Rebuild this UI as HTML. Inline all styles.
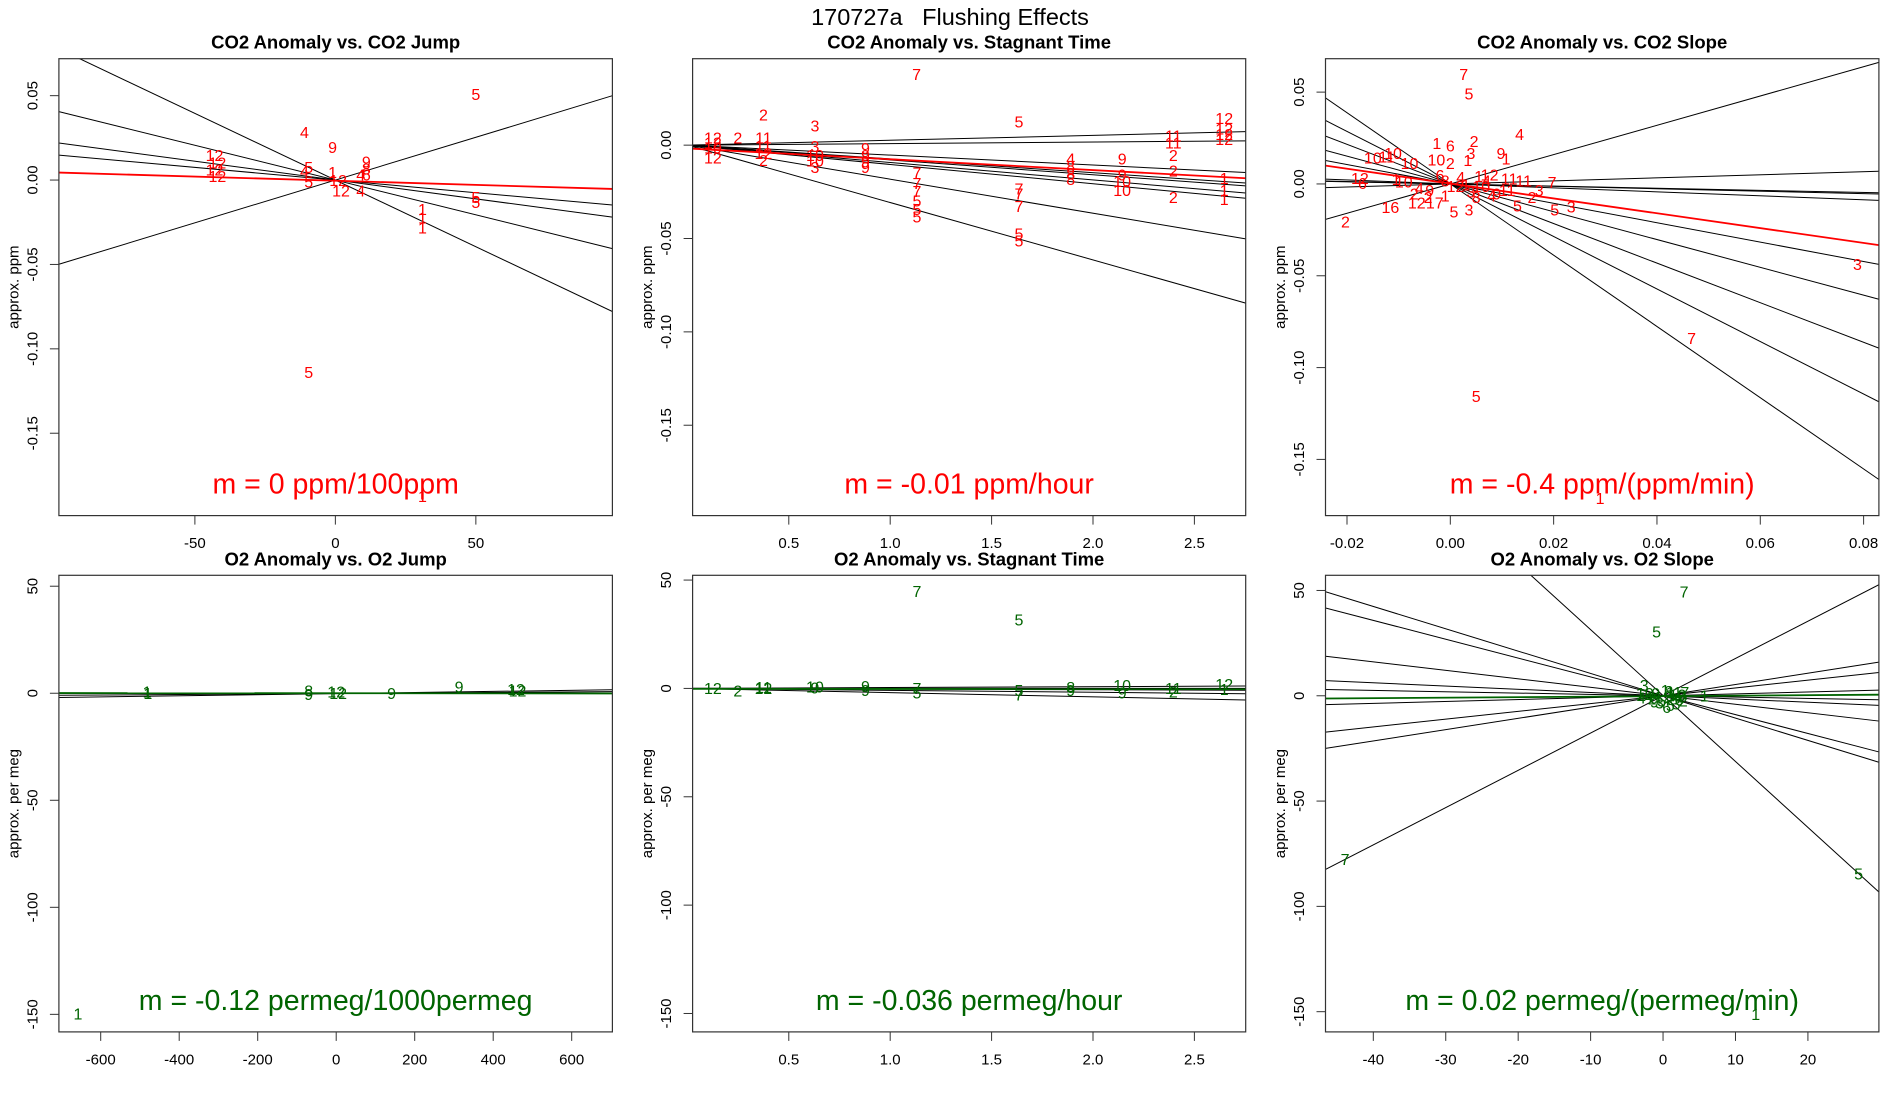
<!DOCTYPE html>
<html><head><meta charset="utf-8"><title>170727a Flushing Effects</title>
<style>
html,body{margin:0;padding:0;background:#fff;}
svg{display:block;font-family:"Liberation Sans",Arial,sans-serif;}
</style></head>
<body>
<svg id="chart" width="1900" height="1100" viewBox="0 0 1900 1100" xmlns="http://www.w3.org/2000/svg">
<rect x="0" y="0" width="1900" height="1100" fill="#fff"/>
<text x="950" y="17" font-size="23.5" text-anchor="middle" dominant-baseline="central" fill="#000" style="white-space:pre">170727a   Flushing Effects</text>
<g id="panels"></g>
</svg>
<script>
// ---------- Panel 1: CO2 Anomaly vs. CO2 Jump ----------
const p1Labels = ["5","4","9","12","12","12","12","5","4","5","1","12","12","9","8","6","4","4","5","5","1","1","1","5","1"];
const p1X = [50,-11,-1,-43,-42,-43,-42,-9.5,-11,-9.5,-1,1,2,11,11,11,9,9,50,50,31,31,31,-9.5,31];
const p1Y = [0.05,0.0275,0.0188,0.014,0.0095,0.0055,0.0015,0.0067,0.0046,-0.0017,0.004,-0.001,-0.007,0.01,0.006,0.0025,0.0025,-0.007,-0.011,-0.014,-0.018,-0.023,-0.029,-0.1146,-0.188];
const p1LineSlopes = [0.000507,-0.00079,-0.000412,-0.000223,-0.00015];
const p1LineIntercepts = [0,0,0,0,0];
const p1FitSlope = -0.0000493;
const p1FitIntercept = -0.0004;
const p1XTicks = [-50,0,50];
const p1XTickLabels = ["-50","0","50"];
const p1YTicks = [0.05,0,-0.05,-0.1,-0.15];
const p1YTickLabels = ["0.05","0.00","-0.05","-0.10","-0.15"];

// ---------- Panel 2: CO2 Anomaly vs. Stagnant Time ----------
const p2Labels = ["7","2","5","3","2","12","12","12","12","11","11","1","1","1","2","2","2","10","10","9","9","4","8","8","8","7","7","7","5","5","7","7","7","5","5","5","9","9","9","9","3","10","10","3","11","11","12","2","12","12","10","12"];
const p2X = [1.13,0.375,1.635,0.629,0.249,2.647,2.647,2.647,2.647,2.396,2.396,2.647,2.647,2.647,2.396,2.396,2.396,2.144,2.144,2.144,2.144,1.89,1.89,1.89,1.89,1.635,1.635,1.635,1.635,1.635,1.132,1.132,1.132,1.132,1.132,1.132,0.878,0.878,0.878,0.878,0.629,0.629,0.629,0.629,0.375,0.375,0.375,0.375,0.126,0.126,0.126,0.126];
const p2Y = [0.0373,0.0156,0.0119,0.0096,0.0034,0.0137,0.0081,0.0053,0.0024,0.0043,0.0006,-0.0183,-0.0248,-0.0296,-0.0286,-0.006,-0.0145,-0.02,-0.0248,-0.008,-0.0164,-0.0079,-0.012,-0.016,-0.019,-0.0239,-0.0267,-0.0333,-0.048,-0.052,-0.0154,-0.0211,-0.0254,-0.0305,-0.035,-0.039,-0.0023,-0.006,-0.0095,-0.0126,-0.0013,-0.006,-0.009,-0.0126,0.0034,-0.001,-0.005,-0.0088,0.0034,0.0005,-0.002,-0.0075];
const p2LineSlopes = [0.00262,0.00083,-0.00532,-0.00737,-0.00792,-0.00931,-0.01034,-0.01823,-0.03073];
const p2LineIntercepts = [0,0,0,0,0,0,0,0,0];
const p2FitSlope = -0.0058;
const p2FitIntercept = -0.00175;
const p2XTicks = [0.5,1,1.5,2,2.5];
const p2XTickLabels = ["0.5","1.0","1.5","2.0","2.5"];
const p2YTicks = [0,-0.05,-0.1,-0.15];
const p2YTickLabels = ["0.00","-0.05","-0.10","-0.15"];

// ---------- Panel 3: CO2 Anomaly vs. CO2 Slope ----------
const p3Labels = ["7","5","4","2","1","6","3","9","1","1","10","10","11","10","10","2","12","6","2","16","12","17","2","5","3","5","5","3","2","3","7","11","11","12","10","1","4","9","6","8","12","4","1","3","8","10","4","9","11","4","1","2","1","1","3","7","5"];
const p3X = [0.0026,0.0036,0.0134,0.0046,-0.0026,0,0.004,0.0098,0.0108,0.0034,-0.015,-0.0111,-0.0123,-0.0079,-0.0027,0,-0.0175,-0.017,-0.0203,-0.0116,-0.0065,-0.003,-0.0043,0.0007,0.0036,0.013,0.0202,0.0234,0.0158,0.0172,0.0197,0.0142,0.0114,0.0076,-0.009,-0.0105,-0.006,-0.004,-0.002,-0.001,0.001,0.002,0.003,0.004,0.005,0.006,0.008,0.009,0.011,0.007,-0.001,-0.007,0.0055,0.029,0.0788,0.0467,0.005];
const p3Y = [0.059,0.0484,0.0264,0.0226,0.0216,0.0201,0.0159,0.0159,0.013,0.0121,0.0136,0.0159,0.014,0.0105,0.0124,0.0105,0.0025,-0.0004,-0.0214,-0.0134,-0.011,-0.011,-0.008,-0.0157,-0.0147,-0.0125,-0.0147,-0.0132,-0.008,-0.0042,0.0002,0.001,0.0021,0.0044,0.0005,0.002,-0.003,-0.004,0.004,0.001,-0.002,0.003,-0.001,-0.005,-0.008,-0.002,-0.007,-0.006,-0.004,0.001,-0.007,-0.006,0.0035,-0.1717,-0.0444,-0.0846,-0.1162];
const p3LineSlopes = [0.798,0.083,-0.058,-0.066,-0.108,-0.528,-0.757,-1.078,-1.43,-1.94];
const p3LineIntercepts = [0,0,0,0,0,0,0,0,0,0];
const p3FitSlope = -0.404;
const p3FitIntercept = 0.0002;
const p3XTicks = [-0.02,0,0.02,0.04,0.06,0.08];
const p3XTickLabels = ["-0.02","0.00","0.02","0.04","0.06","0.08"];
const p3YTicks = [0.05,0,-0.05,-0.1,-0.15];
const p3YTickLabels = ["0.05","0.00","-0.05","-0.10","-0.15"];

// ---------- Panel 4: O2 Anomaly vs. O2 Jump ----------
const p4Labels = ["1","1","8","9","12","12","9","9","12","12","1"];
const p4X = [-482,-480,-70,-70,0,5,141,313,458,462,-658];
const p4Y = [0,-0.5,0.5,-1,0,-0.5,-0.5,2.5,1.3,0.5,-150.3];
const p4LineSlopes = [0.00256,0.0012];
const p4LineIntercepts = [-0.16,-0.1];
const p4FitSlope = -0.00012;
const p4FitIntercept = 0;
const p4XTicks = [-600,-400,-200,0,200,400,600];
const p4XTickLabels = ["-600","-400","-200","0","200","400","600"];
const p4YTicks = [50,0,-50,-100,-150];
const p4YTickLabels = ["50","0","-50","-100","-150"];

// ---------- Panel 5: O2 Anomaly vs. Stagnant Time ----------
const p5Labels = ["7","5","2","12","12","11","10","9","9","9","7","5","5","7","8","9","10","9","11","2","12","1"];
const p5X = [1.132,1.635,0.249,0.126,0.375,0.375,0.629,0.629,0.878,0.878,1.132,1.132,1.635,1.635,1.89,1.89,2.144,2.144,2.396,2.396,2.647,2.647];
const p5Y = [44.2,31.1,-1.6,-0.5,-0.5,0,0.3,-0.3,0.5,-1.5,-0.5,-2.5,-1.5,-3.5,0,-1.5,0.8,-2.5,-0.5,-2,1.3,-1];
const p5LineSlopes = [0.4,0,-0.3,-0.89,-1.95];
const p5LineIntercepts = [0,0,0,0,0];
const p5FitSlope = -0.036;
const p5FitIntercept = -0.2;
const p5XTicks = [0.5,1,1.5,2,2.5];
const p5XTickLabels = ["0.5","1.0","1.5","2.0","2.5"];
const p5YTicks = [50,0,-50,-100,-150];
const p5YTickLabels = ["50","0","-50","-100","-150"];

// ---------- Panel 6: O2 Anomaly vs. O2 Slope ----------
const p6Labels = ["7","5","7","5","1","3","1","7","4","9","3","6","5","8","12","2","10","11","7","1","4","5","3","6","9","8","2","10"];
const p6X = [2.9,-0.9,-43.9,27,12.8,-2.6,5.7,3,-2,-1,-0.5,0.5,1,1.5,0,-1.5,2,1.5,2.5,0.3,-3,-0.2,1.8,2.2,-1.2,0.8,2.8,-2.5];
const p6Y = [48.8,29.7,-78.3,-85,-151.7,4.5,-0.5,1,-1,0.5,-4,-6,-5,-2,-1,-2,0,1,-1,2,-1.5,-3,-4.5,-2.5,-3.5,1.5,-3,0.5];
const p6LineSlopes = [1.77,-3.13,-1.06,-0.895,-0.403,-0.154,-0.064,0.09,0.37,0.536];
const p6LineIntercepts = [0,0.1,0,0,0,0,0,0,0,0];
const p6FitSlope = 0.0236;
const p6FitIntercept = -0.2;
const p6XTicks = [-40,-30,-20,-10,0,10,20];
const p6XTickLabels = ["-40","-30","-20","-10","0","10","20"];
const p6YTicks = [50,0,-50,-100,-150];
const p6YTickLabels = ["50","0","-50","-100","-150"];

const NS = "http://www.w3.org/2000/svg";
const RED = "#ff0000", GREEN = "#006400";

const layouts = [
  {key:"co2-jump", title:"CO2 Anomaly vs. CO2 Jump", ylab:"approx. ppm", m:"m = 0 ppm/100ppm", col:RED,
   box:[58.9,58.7,612.4,515.6], xd:[-98.4,98.6], yd:[-0.1988,0.0719],
   labels:p1Labels, xs:p1X, ys:p1Y, ls:p1LineSlopes, li:p1LineIntercepts, fs:p1FitSlope, fi:p1FitIntercept,
   xt:p1XTicks, xtl:p1XTickLabels, yt:p1YTicks, ytl:p1YTickLabels},
  {key:"co2-stagnant", title:"CO2 Anomaly vs. Stagnant Time", ylab:"approx. ppm", m:"m = -0.01 ppm/hour", col:RED,
   box:[692.6,58.7,1245.7,515.6], xd:[0.0257,2.753], yd:[-0.1984,0.0463],
   labels:p2Labels, xs:p2X, ys:p2Y, ls:p2LineSlopes, li:p2LineIntercepts, fs:p2FitSlope, fi:p2FitIntercept,
   xt:p2XTicks, xtl:p2XTickLabels, yt:p2YTicks, ytl:p2YTickLabels},
  {key:"co2-slope", title:"CO2 Anomaly vs. CO2 Slope", ylab:"approx. ppm", m:"m = -0.4 ppm/(ppm/min)", col:RED,
   box:[1325.5,58.7,1878.9,515.6], xd:[-0.02416,0.08296], yd:[-0.1806,0.0682],
   labels:p3Labels, xs:p3X, ys:p3Y, ls:p3LineSlopes, li:p3LineIntercepts, fs:p3FitSlope, fi:p3FitIntercept,
   xt:p3XTicks, xtl:p3XTickLabels, yt:p3YTicks, ytl:p3YTickLabels},
  {key:"o2-jump", title:"O2 Anomaly vs. O2 Jump", ylab:"approx. per meg", m:"m = -0.12 permeg/1000permeg", col:GREEN,
   box:[58.9,575.3,612.4,1031.9], xd:[-706.5,703.7], yd:[-158.2,55.1],
   labels:p4Labels, xs:p4X, ys:p4Y, ls:p4LineSlopes, li:p4LineIntercepts, fs:p4FitSlope, fi:p4FitIntercept,
   xt:p4XTicks, xtl:p4XTickLabels, yt:p4YTicks, ytl:p4YTickLabels},
  {key:"o2-stagnant", title:"O2 Anomaly vs. Stagnant Time", ylab:"approx. per meg", m:"m = -0.036 permeg/hour", col:GREEN,
   box:[692.6,575.3,1245.7,1031.9], xd:[0.0257,2.753], yd:[-158.5,52.2],
   labels:p5Labels, xs:p5X, ys:p5Y, ls:p5LineSlopes, li:p5LineIntercepts, fs:p5FitSlope, fi:p5FitIntercept,
   xt:p5XTicks, xtl:p5XTickLabels, yt:p5YTicks, ytl:p5YTickLabels},
  {key:"o2-slope", title:"O2 Anomaly vs. O2 Slope", ylab:"approx. per meg", m:"m = 0.02 permeg/(permeg/min)", col:GREEN,
   box:[1325.5,575.3,1878.9,1031.9], xd:[-46.6,29.8], yd:[-159.6,57.2],
   labels:p6Labels, xs:p6X, ys:p6Y, ls:p6LineSlopes, li:p6LineIntercepts, fs:p6FitSlope, fi:p6FitIntercept,
   xt:p6XTicks, xtl:p6XTickLabels, yt:p6YTicks, ytl:p6YTickLabels}
];

function mk(tag, attrs, parent){
  const e = document.createElementNS(NS, tag);
  for (const k in attrs) e.setAttribute(k, attrs[k]);
  parent.appendChild(e);
  return e;
}

const root = document.getElementById("panels");
layouts.forEach(function(P, idx){
  const [L,T,R,B] = P.box;
  const sx = v => L + (v - P.xd[0]) / (P.xd[1]-P.xd[0]) * (R-L);
  const sy = v => B - (v - P.yd[0]) / (P.yd[1]-P.yd[0]) * (B-T);
  const g = mk("g", {}, root);
  
  

  const cp = mk("clipPath", {id:"clip"+idx}, g);
  mk("rect", {x:L, y:T, width:R-L, height:B-T}, cp);

  const t = mk("text", {x:(L+R)/2, y:T-10, "font-size":18.5, "font-weight":"bold", "text-anchor":"middle", fill:"#000"}, g);
  t.textContent = P.title;
  
  

  const plot = mk("g", {"clip-path":"url(#clip"+idx+")"}, g);
  P.ls.forEach(function(s, i){
    const b = P.li[i];
    const ln = mk("line", {x1:sx(P.xd[0]), y1:sy(b + s*P.xd[0]), x2:sx(P.xd[1]), y2:sy(b + s*P.xd[1]), stroke:"#000", "stroke-width":1}, plot);
    
    
  });
  P.labels.forEach(function(lab, i){
    const tx = mk("text", {x:sx(P.xs[i]), y:sy(P.ys[i]), "font-size":16, "text-anchor":"middle", "dominant-baseline":"central", fill:P.col}, plot);
    tx.textContent = lab;
    
    
  });
  const fl = mk("line", {x1:sx(P.xd[0]), y1:sy(P.fi + P.fs*P.xd[0]), x2:sx(P.xd[1]), y2:sy(P.fi + P.fs*P.xd[1]), stroke:P.col, "stroke-width":1.8}, plot);
  
  

  const bx = mk("rect", {x:L, y:T, width:R-L, height:B-T, fill:"none", stroke:"#333", "stroke-width":1.2}, g);
  
  

  const xa = mk("g", {}, g);
  
  
  P.xt.forEach(function(v, i){
    const x = sx(v);
    mk("line", {x1:x, y1:B, x2:x, y2:B+9, stroke:"#333", "stroke-width":1}, xa);
    const tl = mk("text", {x:x, y:B+28, "font-size":15, "text-anchor":"middle", "dominant-baseline":"central", fill:"#000"}, xa);
    tl.textContent = P.xtl[i];
    
    
  });
  const ya = mk("g", {}, g);
  
  
  P.yt.forEach(function(v, i){
    const y = sy(v);
    mk("line", {x1:L-9, y1:y, x2:L, y2:y, stroke:"#333", "stroke-width":1}, ya);
    const tl = mk("text", {x:0, y:0, transform:"translate("+(L-26)+","+y+") rotate(-90)", "font-size":15, "text-anchor":"middle", "dominant-baseline":"central", fill:"#000"}, ya);
    tl.textContent = P.ytl[i];
    
    
  });
  const yl = mk("text", {x:0, y:0, transform:"translate("+(L-45)+","+((T+B)/2)+") rotate(-90)", "font-size":15, "text-anchor":"middle", "dominant-baseline":"central", fill:"#000"}, g);
  yl.textContent = P.ylab;
  
  

  const mt = mk("text", {x:(L+R)/2, y:B-31, "font-size":28.5, "text-anchor":"middle", "dominant-baseline":"central", fill:P.col}, g);
  mt.textContent = P.m;
  
  
});
</script>
</body></html>
